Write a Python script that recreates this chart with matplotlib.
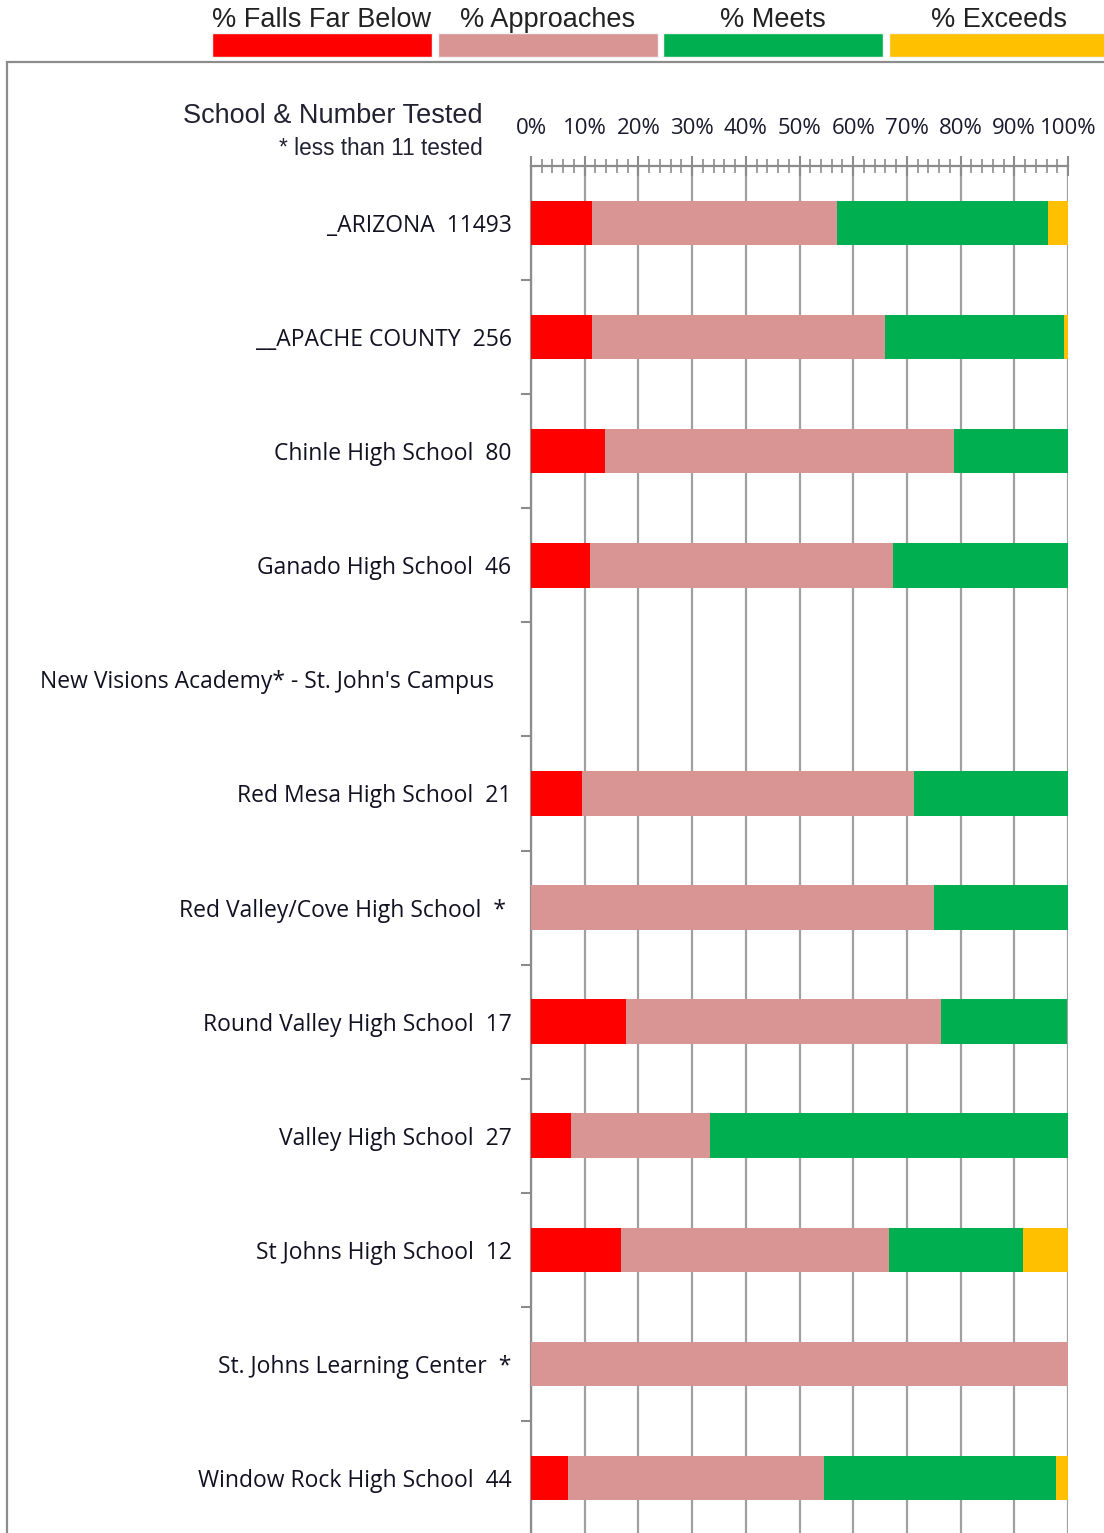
import matplotlib
matplotlib.use("Agg")
import matplotlib.pyplot as plt
from matplotlib.patches import Rectangle
import numpy as np

schools = ["_ARIZONA  11493", "__APACHE COUNTY  256", "Chinle High School  80",
           "Ganado High School  46", "New Visions Academy* - St. John's Campus   ",
           "Red Mesa High School  21", "Red Valley/Cove High School  * ",
           "Round Valley High School  17", "Valley High School  27",
           "St Johns High School  12", "St. Johns Learning Center  *",
           "Window Rock High School  44"]
falls_far_below = [11.4, 11.3, 13.8, 10.9, 0, 9.5, 0, 17.6, 7.4, 16.7, 0, 6.8]
approaches = [45.5, 54.7, 65.0, 56.5, 0, 61.9, 75.0, 58.8, 25.9, 50.0, 100, 47.7]
meets = [39.4, 33.2, 21.2, 32.6, 0, 28.6, 25.0, 23.5, 66.7, 25.0, 0, 43.2]
exceeds = [3.7, 0.8, 0, 0, 0, 0, 0, 0, 0, 8.3, 0, 2.3]
series_names = ["% Falls Far Below", "% Approaches", "% Meets", "% Exceeds"]
colors = ["#FF0000", "#D99594", "#00B050", "#FFC000"]
xtick_labels = ["0%", "10%", "20%", "30%", "40%", "50%", "60%", "70%", "80%", "90%", "100%"]

W, H = 1104, 1533
fig = plt.figure(figsize=(W / 100, H / 100), dpi=100)
fig.patch.set_facecolor("white")

def fx(px):
    return px / W

def fy(py):
    return 1 - py / H

# outer frame
fig.add_artist(Rectangle((fx(7), fy(1560)), fx(1200), fy(62) - fy(1560),
                         transform=fig.transFigure, fill=False,
                         edgecolor="#8C8C8C", lw=1.6))

ax = fig.add_axes([fx(531), fy(1535), fx(1068) - fx(531), fy(166) - fy(1535)])
y = np.arange(len(schools))
data = [falls_far_below, approaches, meets, exceeds]
left = np.zeros(len(schools))
for vals, c in zip(data, colors):
    v = np.array(vals, dtype=float)
    ax.barh(y, v, left=left, height=0.39, color=c, edgecolor="none", zorder=3)
    left += v

ax.set_xlim(0, 100)
ax.set_ylim(len(schools) - 0.5, -0.5)
ax.xaxis.tick_top()
ax.set_xticks(np.arange(0, 101, 10))
ax.set_xticklabels(xtick_labels, fontfamily="Open Sans", fontsize=16, color="#1a1a2e")
ax.set_xticks(np.arange(0, 101, 2), minor=True)
ax.tick_params(axis="x", which="major", direction="inout", length=15, width=1.5,
               color="#8C8C8C", pad=12)
ax.tick_params(axis="x", which="minor", direction="inout", length=9.5, width=1.2,
               color="#8C8C8C")
ax.grid(axis="x", which="major", color="#A0A0A0", lw=1.6, zorder=1)

ax.set_yticks(y)
ax.set_yticklabels(schools, fontfamily="Open Sans", fontsize=16.5, color="#111122")
ax.set_yticks(np.arange(len(schools)) + 0.5, minor=True)
ax.tick_params(axis="y", which="major", length=0, pad=14)
ax.tick_params(axis="y", which="minor", direction="out", length=7, width=1.5,
               color="#8C8C8C")
for s in ["right", "bottom"]:
    ax.spines[s].set_visible(False)
for s in ["top", "left"]:
    ax.spines[s].set_color("#8C8C8C")
    ax.spines[s].set_linewidth(1.6)

# header text
fig.text(fx(483), fy(123), "School & Number Tested", ha="right", va="baseline",
         fontfamily="Liberation Sans", fontsize=19.5, color="#222233")
fig.text(fx(483), fy(155), "* less than 11 tested", ha="right", va="baseline",
         fontfamily="Liberation Sans", fontsize=16.3, color="#222233")

# legend
rect_lefts = [212, 438, 663, 889]
for name, c, lx in zip(series_names, colors, rect_lefts):
    fig.add_artist(Rectangle((fx(lx), fy(57)), fx(220), fy(33) - fy(57),
                             transform=fig.transFigure, facecolor=c,
                             edgecolor="#F4F4F4", lw=1.0))
    fig.text(fx(lx + 110), fy(27), name, ha="center", va="baseline",
             fontfamily="Liberation Sans", fontsize=19.5, color="#222222")

fig.savefig("out.png", dpi=100, facecolor="white")
